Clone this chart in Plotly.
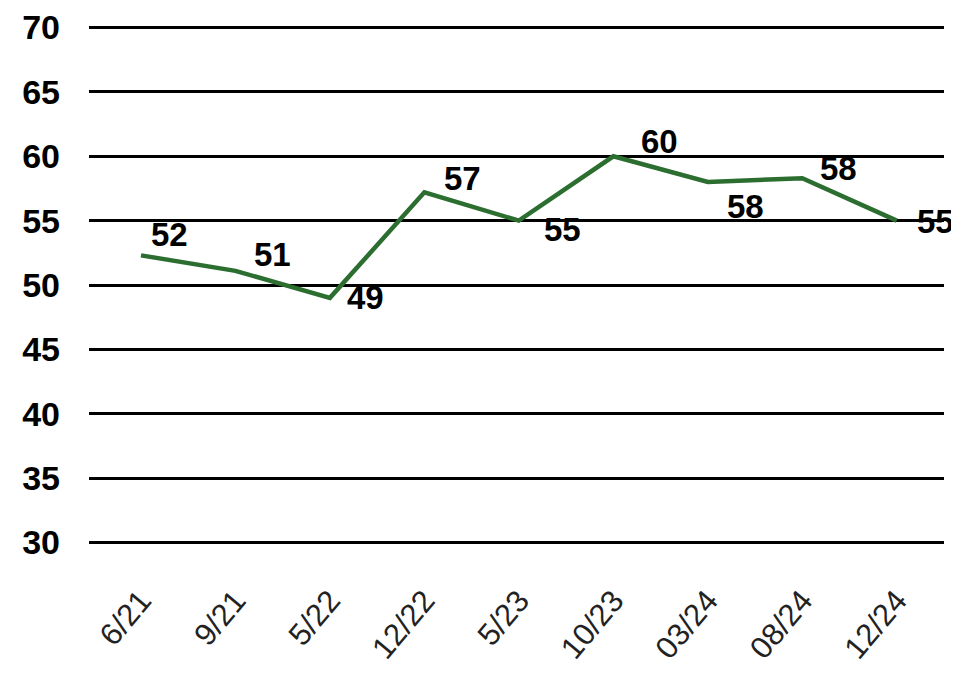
import plotly.graph_objects as go

categories = ["6/21", "9/21", "5/22", "12/22", "5/23", "10/23", "03/24", "08/24", "12/24"]
values = [52.3, 51.1, 49.0, 57.2, 55.0, 60.0, 58.0, 58.3, 55.0]
labels = ["52", "51", "49", "57", "55", "60", "58", "58", "55"]
y_ticks = [30, 35, 40, 45, 50, 55, 60, 65, 70]

# label offsets (pixels) relative to each point
label_dx = [29, 37, 36, 38, 44, 46, 38, 36, 39]
label_dy = [21, 16, 0, 14, -9, 15, -24, 10, -1]

fig = go.Figure()
fig.add_trace(go.Scatter(
    x=categories, y=values, mode="lines",
    line=dict(color="#2b6e30", width=4.5),
    hoverinfo="skip", showlegend=False,
))

for c, v, t, dx, dy in zip(categories, values, labels, label_dx, label_dy):
    fig.add_annotation(x=c, y=v, text="<b>" + t + "</b>", showarrow=False,
                       xshift=dx, yshift=dy,
                       font=dict(family="Liberation Sans, Arial", size=33, color="#000000"))

fig.update_layout(
    width=959, height=674,
    margin=dict(l=81, r=23, t=17, b=137),
    paper_bgcolor="white", plot_bgcolor="white",
    font=dict(family="Liberation Sans, Arial", color="#000000"),
)
fig.update_yaxes(
    range=[29.8, 70.2], tickvals=y_ticks, ticktext=["<b>%d</b>" % v for v in y_ticks],
    showgrid=True, gridcolor="#000000", gridwidth=3, zeroline=False,
    showline=False, tickfont=dict(size=34, color="#000000"),
    ticklabelstandoff=28, automargin=False, ticklabeloverflow="allow",
)
fig.update_xaxes(
    showgrid=False, zeroline=False, showline=False,
    tickangle=-50, tickfont=dict(size=31, color="#222222"),
    range=[-0.55, 8.5], ticklabelstandoff=30, automargin=False,
    ticklabeloverflow="allow",
)

fig.write_html("out.html")
